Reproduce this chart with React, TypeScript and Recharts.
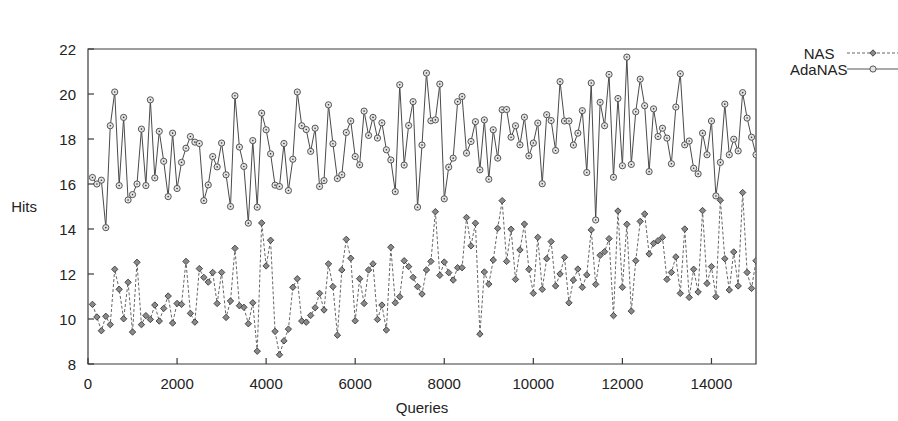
import { LineChart, Line, XAxis, YAxis, Legend, ReferenceArea } from 'recharts';

// AdaNAS / NAS average hits, one point every 100 queries (100 .. 15000)
const adaNasHits = [
  16.29, 16.0, 16.17, 14.06, 18.59, 20.09, 15.93, 18.96, 15.29, 15.53,
  16.0, 18.44, 15.93, 19.74, 16.27, 18.34, 17.01, 15.44, 18.26, 15.8,
  16.96, 17.59, 18.11, 17.86, 17.8, 15.26, 15.96, 17.22, 16.76, 17.82,
  16.41, 15.0, 19.92, 17.64, 16.78, 14.26, 17.93, 14.97, 19.15, 18.41,
  17.34, 15.95, 15.89, 17.8, 15.71, 17.1, 20.09, 18.59, 18.42, 17.45,
  18.48, 15.89, 16.15, 19.52, 17.79, 16.24, 16.41, 18.29, 18.8, 17.22,
  16.85, 19.24, 18.16, 18.96, 18.04, 18.72, 17.52, 17.07, 15.66, 20.41,
  16.84, 18.6, 19.66, 14.97, 17.73, 20.93, 18.81, 18.85, 20.44, 15.34,
  16.75, 17.15, 19.66, 19.89, 17.37, 17.89, 18.77, 16.63, 18.85, 16.21,
  18.41, 17.15, 19.3, 19.31, 18.08, 18.59, 17.74, 18.97, 17.25, 17.82,
  18.71, 16.01, 19.08, 18.82, 17.49, 20.55, 18.8, 18.8, 17.73, 18.26,
  19.26, 16.51, 20.49, 14.4, 19.63, 18.59, 20.87, 16.3, 19.8, 16.81,
  21.64, 16.87, 19.21, 20.66, 19.48, 16.55, 19.34, 18.11, 18.48, 18.04,
  16.9, 19.42, 20.9, 17.74, 17.91, 16.7, 16.45, 18.26, 17.3, 18.8,
  15.47, 16.96, 19.55, 17.3, 17.99, 17.47, 20.06, 18.93, 18.08, 17.3,
];

const nasHits = [
  10.65, 10.09, 9.48, 10.12, 9.75, 12.21, 11.32, 10.01, 11.63, 9.42,
  12.52, 9.75, 10.15, 9.98, 10.62, 9.91, 10.47, 11.02, 9.82, 10.69,
  10.65, 12.56, 10.25, 9.86, 12.24, 11.85, 11.64, 12.07, 10.69, 12.07,
  10.07, 10.8, 13.14, 10.59, 10.52, 9.79, 10.72, 8.57, 14.27, 12.36,
  13.5, 9.45, 8.41, 9.03, 9.55, 11.41, 11.79, 9.91, 9.86, 10.16,
  10.5, 11.14, 10.4, 12.45, 11.44, 9.28, 12.18, 13.54, 12.7, 9.92,
  11.79, 10.69, 12.18, 12.45, 9.98, 10.62, 9.51, 13.19, 10.72, 10.99,
  12.59, 12.33, 11.85, 11.44, 11.11, 12.18, 12.56, 14.77, 11.94, 12.53,
  12.06, 11.73, 12.28, 12.28, 14.51, 13.25, 14.26, 9.33, 12.09, 11.55,
  12.62, 14.03, 15.26, 12.56, 13.99, 11.76, 13.07, 14.22, 12.21, 11.14,
  13.63, 11.32, 12.68, 13.44, 11.47, 12.0, 12.74, 10.72, 11.73, 12.22,
  11.41, 11.96, 13.96, 11.54, 12.83, 12.99, 13.57, 10.15, 14.8, 11.41,
  14.21, 10.35, 12.59, 14.34, 14.67, 12.89, 13.36, 13.48, 13.63, 11.76,
  12.07, 12.76, 11.14, 14.0, 10.96, 12.21, 11.2, 14.82, 11.58, 12.33,
  10.99, 15.28, 12.68, 11.29, 12.98, 11.47, 15.62, 12.07, 11.36, 12.59,
];

const queries = nasHits.map((_, i) => (i + 1) * 100);

const xTicks = [0, 2000, 4000, 6000, 8000, 10000, 12000, 14000];
const yTicks = [8, 10, 12, 14, 16, 18, 20, 22];

const X_DOMAIN = [0, 15000];
const Y_DOMAIN = [8, 22];

const data = queries.map((q, i) => ({ q, nas: nasHits[i], ada: adaNasHits[i] }));

const FONT = '"Liberation Sans", Arial, Helvetica, sans-serif';
const INK = '#222';
const FRAME = '#3a3a3a';
const TL = 6; // inward tick length

function Diamond(props: any) {
  const { cx, cy, index } = props;
  if (cx == null || cy == null) return <g key={`d-${index}`} />;
  const s = 3.2;
  return (
    <path
      key={`d-${index}`}
      d={`M${cx},${cy - s}L${cx + s},${cy}L${cx},${cy + s}L${cx - s},${cy}Z`}
      fill="#8a8a8a"
      stroke="#3a3a3a"
      strokeWidth={0.9}
    />
  );
}

function Ring(props: any) {
  const { cx, cy, index } = props;
  if (cx == null || cy == null) return <g key={`r-${index}`} />;
  return (
    <g key={`r-${index}`}>
      <circle cx={cx} cy={cy} r={3.1} fill="#e4e4e4" stroke="#555" strokeWidth={1} />
      <circle cx={cx} cy={cy} r={0.8} fill="#333" />
    </g>
  );
}

// gnuplot-style ticks: short marks pointing into the plot, labels outside
function BottomTick({ x, y, payload }: any) {
  return (
    <g>
      <path d={`M${x},${y}V${y - TL}`} stroke={FRAME} strokeWidth={1.2} fill="none" />
      <text x={x} y={y + 19} textAnchor="middle" dominantBaseline="central" fill={INK} fontSize={15} fontFamily={FONT}>
        {payload.value}
      </text>
    </g>
  );
}

function TopTick({ x, y }: any) {
  return <path d={`M${x},${y}V${y + TL}`} stroke={FRAME} strokeWidth={1.2} fill="none" />;
}

function LeftTick({ x, y, payload }: any) {
  return (
    <g>
      <path d={`M${x},${y}H${x + TL}`} stroke={FRAME} strokeWidth={1.2} fill="none" />
      <text x={x - 12} y={y} textAnchor="end" dominantBaseline="central" fill={INK} fontSize={15} fontFamily={FONT}>
        {payload.value}
      </text>
    </g>
  );
}

function RightTick({ x, y }: any) {
  return <path d={`M${x},${y}H${x - TL}`} stroke={FRAME} strokeWidth={1.2} fill="none" />;
}

function KeyBox() {
  const row = (label: string, dashed: boolean) => (
    <div style={{ display: 'flex', alignItems: 'center', height: 16 }}>
      <span style={{ width: 45, textAlign: 'right', fontSize: 15, color: INK }}>{label}</span>
      <svg width={52} height={16} style={{ marginLeft: 12 }}>
        <path
          d="M0,8H52"
          stroke={dashed ? '#666' : '#555'}
          strokeWidth={1}
          strokeDasharray={dashed ? '3 2' : undefined}
        />
        {dashed ? (
          <path d="M26,4.8L29.2,8L26,11.2L22.8,8Z" fill="#8a8a8a" stroke="#3a3a3a" strokeWidth={0.9} />
        ) : (
          <circle cx={26} cy={8} r={3.1} fill="#e4e4e4" stroke="#555" strokeWidth={1} />
        )}
      </svg>
    </div>
  );
  return (
    <div style={{ fontFamily: FONT }}>
      {row('NAS', true)}
      {row('AdaNAS', false)}
    </div>
  );
}

export default function App() {
  return (
    <div style={{ position: 'absolute', left: 0, top: 0, width: 898, height: 421, background: '#fff', fontFamily: FONT }}>
      <LineChart width={898} height={421} data={data} margin={{ top: 49, right: 142, bottom: 27, left: 48 }}>
        <XAxis
          dataKey="q"
          type="number"
          domain={X_DOMAIN}
          ticks={xTicks}
          allowDataOverflow
          height={30}
          tickSize={0}
          tickMargin={0}
          axisLine={false}
          tickLine={false}
          tick={BottomTick}
          label={{ value: 'Queries', position: 'bottom', offset: 8, fill: INK, fontSize: 15 }}
        />
        <XAxis
          xAxisId="top"
          orientation="top"
          dataKey="q"
          type="number"
          domain={X_DOMAIN}
          ticks={xTicks}
          allowDataOverflow
          height={0}
          tickSize={0}
          tickMargin={0}
          axisLine={false}
          tickLine={false}
          tick={TopTick}
          label={{ value: 'Average hits', position: 'top', offset: 22, fill: INK, fontSize: 15 }}
        />
        <YAxis
          type="number"
          domain={Y_DOMAIN}
          ticks={yTicks}
          allowDataOverflow
          width={40}
          tickSize={0}
          tickMargin={0}
          axisLine={false}
          tickLine={false}
          tick={LeftTick}
          label={{ value: 'Hits', position: 'left', angle: 0, offset: 11, fill: INK, fontSize: 15 }}
        />
        <YAxis
          yAxisId="right"
          orientation="right"
          type="number"
          domain={Y_DOMAIN}
          ticks={yTicks}
          allowDataOverflow
          width={0}
          tickSize={0}
          tickMargin={0}
          axisLine={false}
          tickLine={false}
          tick={RightTick}
        />
        <ReferenceArea
          x1={X_DOMAIN[0]}
          x2={X_DOMAIN[1]}
          y1={Y_DOMAIN[0]}
          y2={Y_DOMAIN[1]}
          fill="none"
          stroke={FRAME}
          strokeWidth={1.2}
          ifOverflow="visible"
        />
        <Legend
          layout="vertical"
          align="center"
          verticalAlign="middle"
          content={() => <KeyBox />}
          wrapperStyle={{ top: 45, left: 790, width: 108 }}
        />
        <Line
          dataKey="nas"
          name="NAS"
          stroke="#666"
          strokeWidth={1}
          strokeDasharray="3 2"
          dot={Diamond}
          activeDot={false}
          isAnimationActive={false}
        />
        <Line
          dataKey="ada"
          name="AdaNAS"
          stroke="#4a4a4a"
          strokeWidth={1}
          dot={Ring}
          activeDot={false}
          isAnimationActive={false}
        />
      </LineChart>
    </div>
  );
}
